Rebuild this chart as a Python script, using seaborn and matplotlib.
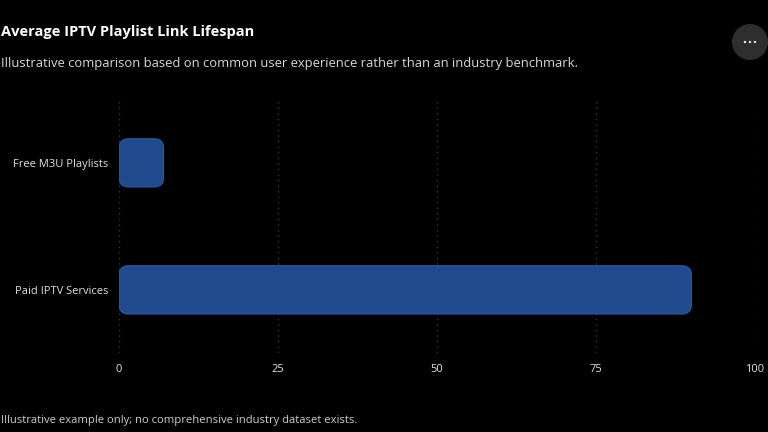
import matplotlib
matplotlib.use('Agg')
import matplotlib.pyplot as plt
import pandas as pd
import seaborn as sns
from matplotlib.patches import FancyBboxPatch, Ellipse

categories = ['Free M3U Playlists', 'Paid IPTV Services']
lifespan = [7, 90]
x_ticks = [0, 25, 50, 75, 100]

df = pd.DataFrame({'category': categories, 'lifespan': lifespan})

sns.set_style('dark')
plt.rcParams['font.family'] = ['Open Sans', 'DejaVu Sans']

fig = plt.figure(figsize=(7.68, 4.32), dpi=100, facecolor='black')
ax = fig.add_axes([0.155, 0.182, 0.828, 0.588])
ax.set_facecolor('black')

sns.barplot(data=df, x='lifespan', y='category', color='#1f4b8e', width=0.38, ax=ax)

# swap the plain bars for rounded ones
for p in list(ax.patches):
    x0, y0 = p.get_x(), p.get_y()
    w, h = p.get_width(), p.get_height()
    p.remove()
    ax.add_patch(FancyBboxPatch((x0, y0), w, h,
                                boxstyle='round,pad=0,rounding_size=1.5',
                                mutation_aspect=h / 8.0,
                                facecolor='#1f4b8e', edgecolor='#2a5aa0', linewidth=0.8))

ax.set_xlim(0, 100)
ax.set_ylim(1.5, -0.5)
ax.set_xticks(x_ticks)
ax.set_xticklabels([str(t) for t in x_ticks])
ax.xaxis.grid(True, color='#3a3a3a', linestyle=(0, (1, 3)), linewidth=1)
ax.yaxis.grid(False)
ax.set_axisbelow(True)
for s in ax.spines.values():
    s.set_visible(False)
ax.tick_params(axis='both', length=0, colors='#e0e0e0', labelsize=8, pad=8)
ax.set_xlabel('')
ax.set_ylabel('')

fig.text(0.001, 1 - 32 / 432, 'Average IPTV Playlist Link Lifespan', color='white',
         fontsize=10.5, fontweight='bold', va='center')
fig.text(0.001, 1 - 63 / 432, 'Illustrative comparison based on common user experience rather than an industry benchmark.',
         color='#d8d8d8', fontsize=9.4, va='center')
fig.text(0.001, 1 - 421 / 432, 'Illustrative example only; no comprehensive industry dataset exists.',
         color='#cccccc', fontsize=8.1, va='center')

# menu button
fig.patches.append(Ellipse((750 / 768, 1 - 42 / 432), 36 / 768, 36 / 432, transform=fig.transFigure,
                           facecolor='#2e2e2e', edgecolor='none'))
for dx in (-5, 0, 5):
    fig.patches.append(Ellipse(((750 + dx) / 768, 1 - 42 / 432), 2.4 / 768, 2.4 / 432,
                               transform=fig.transFigure, facecolor='#e8e8e8', edgecolor='none'))

fig.savefig('out.png', dpi=100, facecolor='black')
